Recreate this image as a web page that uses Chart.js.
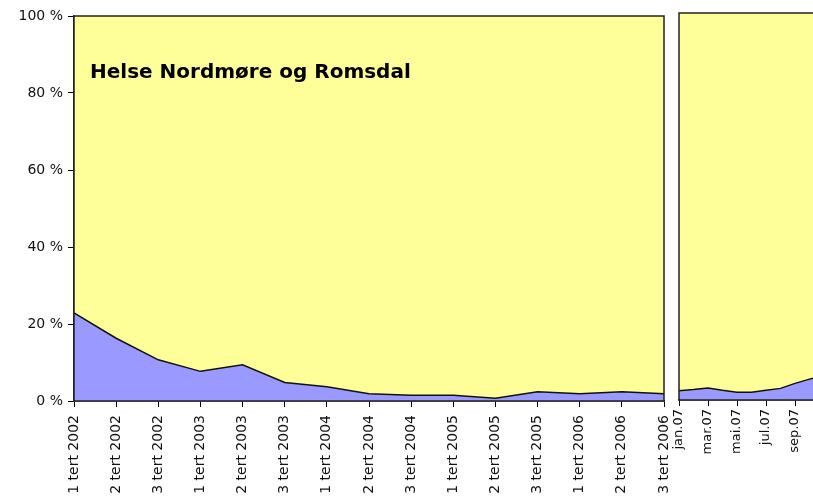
<!DOCTYPE html>
<html>
<head>
<meta charset="utf-8">
<script src="https://cdn.jsdelivr.net/npm/chart.js@4/dist/chart.umd.min.js"></script>
<style>
  body { margin: 0; background: #fff; overflow: hidden; width: 813px; height: 499px; position: relative; }
  #left { position: absolute; left: 0; top: 0; }
  #right { position: absolute; left: 670px; top: 0; }
  #title { position: absolute; left: 90px; top: 59px; font: bold 20px "DejaVu Sans"; color: #000; white-space: nowrap; }
</style>
</head>
<body>
<canvas id="left" width="680" height="499"></canvas>
<canvas id="right" width="170" height="499"></canvas>
<div id="title">Helse Nordmøre og Romsdal</div>
<script>
// tertial data 2002-2006 (share in %)
var tertLabels = ['1 tert 2002', '2 tert 2002', '3 tert 2002', '1 tert 2003', '2 tert 2003', '3 tert 2003',
    '1 tert 2004', '2 tert 2004', '3 tert 2004', '1 tert 2005', '2 tert 2005', '3 tert 2005',
    '1 tert 2006', '2 tert 2006', '3 tert 2006'];
var tertValues = [22.9, 16.3, 10.7, 7.7, 9.4, 4.8, 3.7, 1.9, 1.5, 1.5, 0.7, 2.4, 1.9, 2.4, 1.9];

// monthly data 2007
var monthLabels = ['jan.07', 'feb.07', 'mar.07', 'apr.07', 'mai.07', 'jun.07', 'jul.07', 'aug.07',
    'sep.07', 'okt.07', 'nov.07'];
var monthValues = [2.4, 2.7, 3.1, 2.5, 2.0, 2.0, 2.5, 3.0, 4.3, 5.4, 6.4];

var yTicks = [0, 20, 40, 60, 80, 100];

var YELLOW = '#ffff99';
var BLUE = '#9999ff';

// yellow plot background + frame around the plot area
var framePlugin = {
    id: 'frame',
    beforeDatasetsDraw: function(chart) {
        var a = chart.chartArea, c = chart.ctx;
        c.save();
        c.fillStyle = YELLOW;
        c.fillRect(a.left, a.top, a.right - a.left, a.bottom - a.top);
        c.restore();
    },
    afterDatasetsDraw: function(chart) {
        var a = chart.chartArea, c = chart.ctx;
        c.save();
        c.strokeStyle = '#222';
        c.lineWidth = 1.5;
        c.strokeRect(a.left, a.top, a.right - a.left, a.bottom - a.top);
        c.restore();
    }
};

function areaSet(vals) {
    return {
        data: vals,
        backgroundColor: BLUE,
        borderColor: '#111',
        borderWidth: 1.5,
        pointRadius: 0,
        tension: 0,
        fill: 'origin'
    };
}

new Chart(document.getElementById('left'), {
    type: 'line',
    data: { labels: tertLabels, datasets: [areaSet(tertValues)] },
    plugins: [framePlugin],
    options: {
        responsive: false,
        animation: false,
        layout: { padding: { top: 16, right: 16, left: 0, bottom: 0 } },
        plugins: { legend: { display: false }, tooltip: { enabled: false } },
        scales: {
            x: {
                offset: false,
                grid: { drawOnChartArea: false, tickLength: 6, color: '#000' },
                border: { color: '#222', width: 1.5 },
                ticks: { autoSkip: false, minRotation: 90, maxRotation: 90, padding: 8, color: '#111',
                    font: { family: 'DejaVu Sans', size: 14 } },
                afterFit: function(s) { s.height = 98; s.paddingLeft = 0; s.paddingRight = 0; }
            },
            y: {
                min: 0, max: 100,
                afterBuildTicks: function(s) { s.ticks = yTicks.map(function(v) { return { value: v }; }); },
                grid: { drawOnChartArea: false, tickLength: 6, color: '#000' },
                border: { color: '#222', width: 1.5 },
                ticks: { padding: 5, color: '#111', font: { family: 'DejaVu Sans', size: 14 },
                    callback: function(v) { return v + ' %'; } },
                afterFit: function(s) { s.width = 74; }
            }
        }
    }
});

new Chart(document.getElementById('right'), {
    type: 'line',
    data: { labels: monthLabels, datasets: [areaSet(monthValues)] },
    plugins: [framePlugin],
    options: {
        responsive: false,
        animation: false,
        layout: { padding: { top: 13, right: 16, left: 9, bottom: 0 } },
        plugins: { legend: { display: false }, tooltip: { enabled: false } },
        scales: {
            x: {
                offset: false,
                grid: { drawOnChartArea: false, tickLength: 6,
                    color: function(ctx) { return ctx.index % 2 ? 'rgba(0,0,0,0)' : '#000'; } },
                border: { color: '#222', width: 1.5 },
                ticks: { autoSkip: false, minRotation: 90, maxRotation: 90, padding: 3, color: '#111',
                    font: { family: 'DejaVu Sans', size: 13 },
                    callback: function(v, i) { return i % 2 ? '' : monthLabels[i]; } },
                afterFit: function(s) { s.height = 99; s.paddingLeft = 0; s.paddingRight = 0; }
            },
            y: { display: false, min: 0, max: 100 }
        }
    }
});
</script>
</body>
</html>
